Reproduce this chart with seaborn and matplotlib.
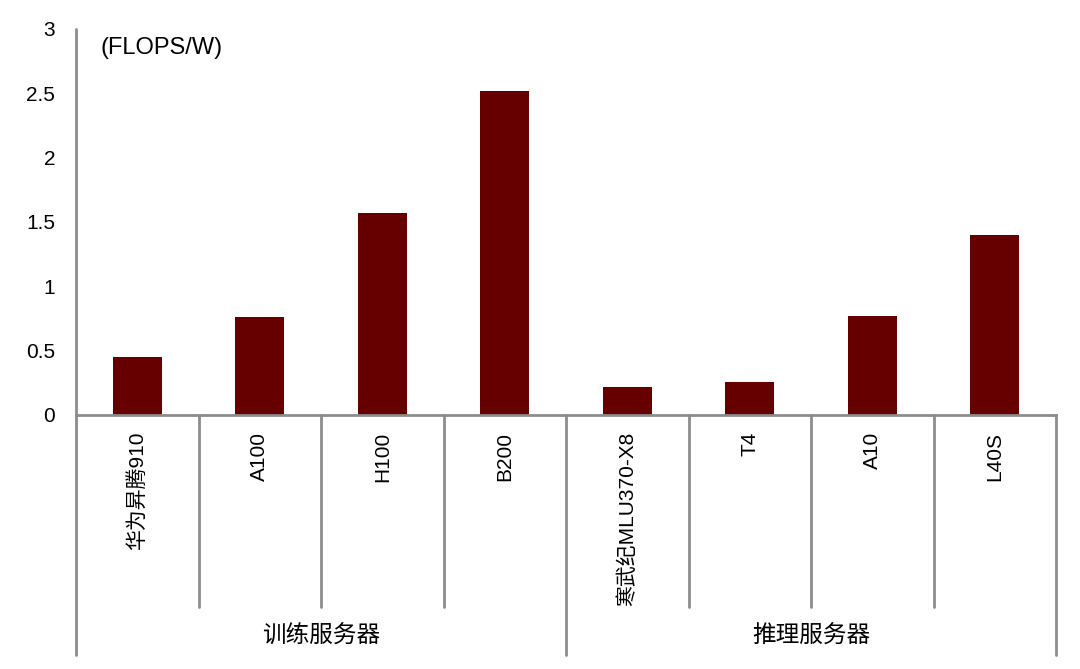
import matplotlib
matplotlib.use("Agg")
import matplotlib.pyplot as plt
import pandas as pd
import seaborn as sns

# values
models = ["华为昇腾910", "A100", "H100", "B200", "寒武纪MLU370-X8", "T4", "A10", "L40S"]
efficiency = [0.45, 0.76, 1.57, 2.52, 0.22, 0.26, 0.77, 1.40]
groups = ["训练服务器", "推理服务器"]
group_sizes = [4, 4]
unit_label = "(FLOPS/W)"

df = pd.DataFrame({"model": models, "value": efficiency})

sns.set_style("white")
plt.rcParams["font.family"] = ["Liberation Sans", "Noto Sans CJK SC", "DejaVu Sans"]
plt.rcParams["text.color"] = "black"
plt.rcParams["xtick.color"] = "black"
plt.rcParams["ytick.color"] = "black"

axis_color = "#8c8c8c"
bar_color = "#660000"

fig = plt.figure(figsize=(10.8, 6.69), dpi=100)
ax = fig.add_axes([0.0704, 0.3797, 0.9074, 0.577])

sns.barplot(data=df, x="model", y="value", color=bar_color, width=0.4,
            saturation=1, ax=ax, edgecolor="none")

ax.set_xlim(-0.5, len(models) - 0.5)
ax.set_ylim(0, 3)
ax.set_yticks([0, 0.5, 1, 1.5, 2, 2.5, 3])
ax.set_yticklabels(["0", "0.5", "1", "1.5", "2", "2.5", "3"])
ax.set_xlabel("")
ax.set_ylabel("")
ax.set_xticks(range(len(models)))
ax.set_xticklabels(models, rotation=90, va="top", ha="center")
ax.tick_params(axis="x", length=0, pad=12, labelsize=15)
ax.tick_params(axis="y", length=0, pad=15, labelsize=15)

for side in ["top", "right", "left"]:
    ax.spines[side].set_visible(False)
ax.spines["bottom"].set_color(axis_color)
ax.spines["bottom"].set_linewidth(2)

# left axis line running down through the category area
trans = ax.get_xaxis_transform()
ax.plot([-0.5, -0.5], [1, -0.622], transform=trans, color=axis_color, lw=2, clip_on=False)

# separators between categories and groups
edges = [sum(group_sizes[:i + 1]) - 0.5 for i in range(len(group_sizes))]
for i in range(1, len(models) + 1):
    xb = i - 0.5
    low = -0.622 if xb in edges else -0.497
    ax.plot([xb, xb], [0, low], transform=trans, color=axis_color, lw=2, clip_on=False)

start = -0.5
for g, n in zip(groups, group_sizes):
    ax.text(start + n / 2, -0.573, g, transform=trans, ha="center", va="center", fontsize=17)
    start += n

ax.text(0.025, 0.95, unit_label, transform=ax.transAxes, ha="left", va="center", fontsize=17)

fig.savefig("out.png", dpi=100)
